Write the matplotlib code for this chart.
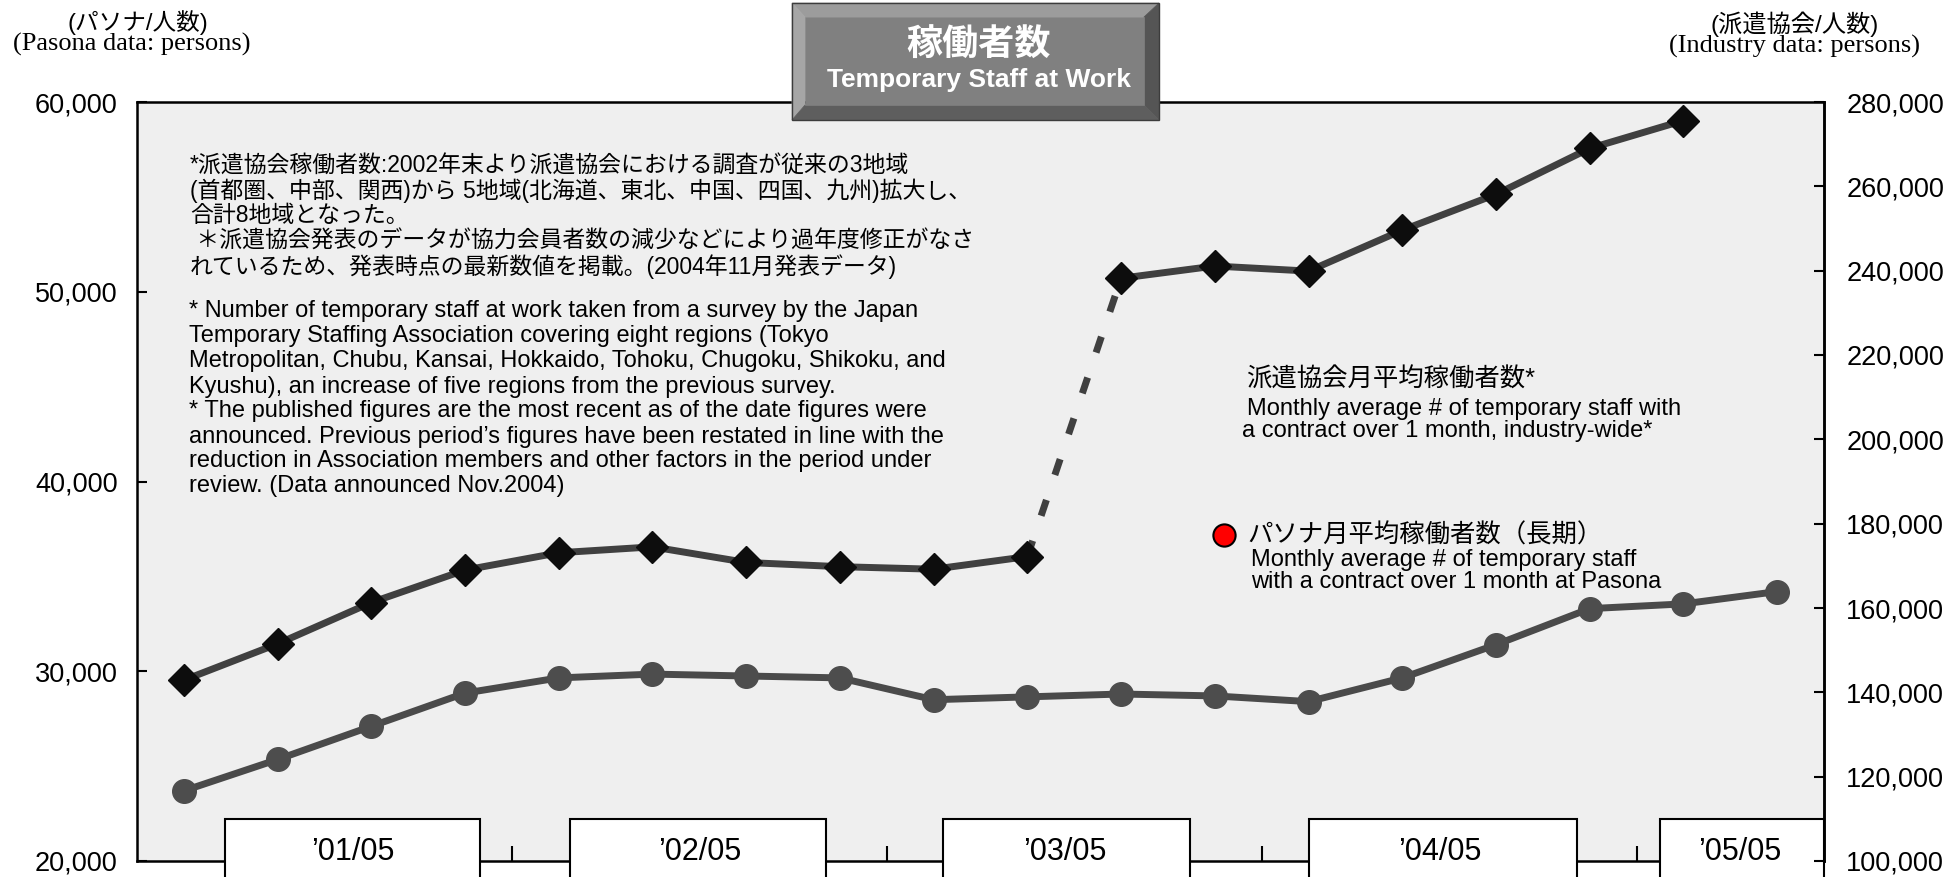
import matplotlib
matplotlib.use("Agg")
import matplotlib.pyplot as plt
from matplotlib.patches import Rectangle, Polygon
from matplotlib.lines import Line2D
from matplotlib.ticker import FuncFormatter
from matplotlib.transforms import blended_transform_factory
import numpy as np

plt.rcParams['font.family'] = ['Liberation Sans', 'Noto Sans CJK JP', 'DejaVu Sans']

# quarterly figures, '01/05 .. '05/05
pasona = [23700, 25350, 27100, 28850, 29650, 29850, 29750, 29650, 28500,
          28650, 28800, 28700, 28400, 29650, 31400, 33300, 33550, 34200]
industry_old = [142900, 151500, 161300, 169000, 173100, 174500, 170800,
                169800, 169200, 172200]   # 3 regions
industry_new = [238200, 241100, 239900, 249600, 258100, 269000, 275600]  # 8 regions
year_labels = ["’01/05", "’02/05", "’03/05", "’04/05", "’05/05"]

note_jp = [
    "*派遣協会稼働者数:2002年末より派遣協会における調査が従来の3地域",
    "(首都圏、中部、関西)から 5地域(北海道、東北、中国、四国、九州)拡大し、",
    "合計8地域となった。",
    " ＊派遣協会発表のデータが協力会員者数の減少などにより過年度修正がなさ",
    "れているため、発表時点の最新数値を掲載。(2004年11月発表データ)",
]
note_en = [
    "* Number of temporary staff at work taken from a survey by the Japan",
    "Temporary Staffing Association covering eight regions (Tokyo",
    "Metropolitan, Chubu, Kansai, Hokkaido, Tohoku, Chugoku, Shikoku, and",
    "Kyushu), an increase of five regions from the previous survey.",
    "* The published figures are the most recent as of the date figures were",
    "announced. Previous period’s figures have been restated in line with the",
    "reduction in Association members and other factors in the period under",
    "review. (Data announced Nov.2004)",
]

W, H = 1944, 877


def fx(x):
    return x / W


def fy(y):
    return 1 - y / H


fig = plt.figure(figsize=(W / 100, H / 100), dpi=100)
ax = fig.add_axes([fx(137), fy(861), 1687 / W, 759 / H])
ax.set_facecolor('#efefef')
ax.set_xlim(-0.5, 17.5)
ax.set_ylim(20000, 60000)
ax2 = ax.twinx()
ax2.set_ylim(100000, 280000)

x = np.arange(len(pasona))
x_old = x[:len(industry_old)]
x_new = x[len(industry_old):len(industry_old) + len(industry_new)]

ax.plot(x, pasona, color='#4a4a4a', lw=5, marker='o', ms=17,
        mfc='#4d4d4d', mec='#4d4d4d', zorder=3)
ax2.plot([x_old[-1], x_new[0]], [industry_old[-1], industry_new[0]],
         color='#404040', lw=5, ls=(0, (2.4, 3.8)), zorder=1)
for xs, ys in [(x_old, industry_old), (x_new, industry_new)]:
    ax2.plot(xs, ys, color='#404040', lw=5, marker='D', ms=16,
             mfc='#0d0d0d', mec='#0d0d0d', zorder=3)

fmt = FuncFormatter(lambda v, p: f"{v:,.0f}")
ax.set_yticks(np.arange(20000, 60001, 10000))
ax.yaxis.set_major_formatter(fmt)
ax.tick_params(axis='y', direction='in', length=7, width=1.5, labelsize=19.5, pad=14)
ax.set_xticks([3.5, 7.5, 11.5, 15.5])
ax.tick_params(axis='x', direction='in', length=11, width=1.5, labelbottom=False)
ax2.set_yticks(np.arange(100000, 280001, 20000))
ax2.yaxis.set_major_formatter(fmt)
ax2.tick_params(axis='y', direction='in', length=7, width=1.5, labelsize=19.5, pad=16)

for s in ax.spines.values():
    s.set_linewidth(1.8)
    s.set_color('black')
for name, s in ax2.spines.items():
    s.set_visible(name == 'right')
    s.set_linewidth(1.8)

# year label boxes below the plot
trans = blended_transform_factory(ax.transData, ax.transAxes)
boxes = [(0.44, 3.16), (4.12, 6.85), (8.10, 10.74), (12.01, 14.86), (15.75, 17.5)]
centers = [1.8, 5.5, 9.4, 13.4, 16.6]
for (x0, x1), c, lab in zip(boxes, centers, year_labels):
    ax.add_patch(Rectangle((x0, -0.2), x1 - x0, 0.255, transform=trans,
                           fc='white', ec='black', lw=1.5, clip_on=False, zorder=5))
    ax.text(c, 0.012, lab, transform=trans, ha='center', va='center',
            fontsize=22, zorder=6)

# notes
for i, line in enumerate(note_jp):
    fig.text(fx(190), fy(165 + 25.4 * i), line, fontsize=16.5, va='center')
for i, line in enumerate(note_en):
    fig.text(fx(189), fy(311.5 + 25 * i), line, fontsize=17, va='center')

# series labels
fig.text(fx(1246), fy(380), "派遣協会月平均稼働者数*", fontsize=18.3, va='center')
fig.text(fx(1247), fy(409), "Monthly average # of temporary staff with",
         fontsize=17, va='center')
fig.text(fx(1242), fy(431), "a contract over 1 month, industry-wide*",
         fontsize=17, va='center')
fig.add_artist(Line2D([fx(1224)], [fy(535)], marker='o', ms=16, mfc='#ff0000',
                      mec='black', mew=1.5, transform=fig.transFigure))
fig.text(fx(1247), fy(535), "パソナ月平均稼働者数（長期）", fontsize=18.3, va='center')
fig.text(fx(1251), fy(560), "Monthly average # of temporary staff",
         fontsize=17, va='center')
fig.text(fx(1251), fy(582), "with a contract over 1 month at Pasona",
         fontsize=17, va='center')

# axis unit labels
fig.text(fx(138), fy(23), "(パソナ/人数)", fontsize=17, ha='center', va='center')
fig.text(fx(132), fy(44), "(Pasona data: persons)", fontsize=19, ha='center',
         va='center', family='Liberation Serif')
fig.text(fx(1795), fy(24), "(派遣協会/人数)", fontsize=17.5, ha='center', va='center')
fig.text(fx(1794), fy(46), "(Industry data: persons)", fontsize=19, ha='center',
         va='center', family='Liberation Serif')

# bevelled title box
ox0, oy0, ox1, oy1 = 792, 3, 1159, 120
ix0, iy0, ix1, iy1 = 805, 17, 1144, 105
bevels = [
    ([(ox0, oy0), (ox1, oy0), (ix1, iy0), (ix0, iy0)], '#9c9c9c'),
    ([(ox0, oy0), (ix0, iy0), (ix0, iy1), (ox0, oy1)], '#a6a6a6'),
    ([(ox1, oy0), (ox1, oy1), (ix1, iy1), (ix1, iy0)], '#555555'),
    ([(ox0, oy1), (ix0, iy1), (ix1, iy1), (ox1, oy1)], '#5e5e5e'),
    ([(ix0, iy0), (ix1, iy0), (ix1, iy1), (ix0, iy1)], '#808080'),
]
for pts, col in bevels:
    fig.add_artist(Polygon([(fx(a), fy(b)) for a, b in pts], closed=True,
                           transform=fig.transFigure, fc=col, ec=col, lw=0.5))
fig.add_artist(Rectangle((fx(ox0), fy(oy1)), fx(ox1) - fx(ox0), fy(oy0) - fy(oy1),
                         transform=fig.transFigure, fill=False, ec='#3c3c3c', lw=1))
fig.text(fx(979), fy(46), "稼働者数", fontsize=26, color='white', weight='bold',
         ha='center', va='center')
fig.text(fx(979), fy(80), "Temporary Staff at Work", fontsize=19, color='white',
         weight='bold', ha='center', va='center')

fig.savefig("out.png", dpi=100)
